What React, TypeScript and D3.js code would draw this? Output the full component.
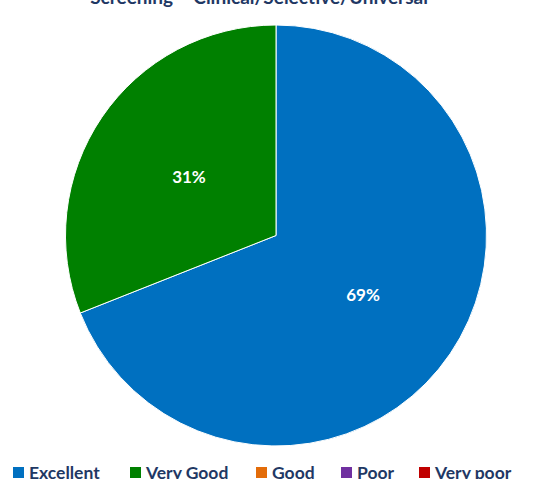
import React from "react";
import * as d3 from "d3";

const categories = ["Excellent", "Very Good", "Good", "Poor", "Very poor"];
const values = [69, 31, 0, 0, 0];
const colors = ["#0070C0", "#008000", "#E36C09", "#7030A0", "#C00000"];
const title = "Screening – Clinical/Selective/Universal";

const legendX = [13, 130, 256, 341, 419];

export default function App() {
  const W = 550, H = 479;
  const cx = 276, cy = 235.5, r = 210.5;
  const pie = d3.pie<number>().value((d) => d).sort(null);
  const arcs = pie(values);
  const arc = d3.arc<d3.PieArcDatum<number>>().innerRadius(0).outerRadius(r);
  const total = d3.sum(values);
  const labelArc = d3.arc<d3.PieArcDatum<number>>().innerRadius(r * 0.5).outerRadius(r * 0.5);
  const font = "Lato, 'Open Sans', sans-serif";
  return (
    <svg width={W} height={H} style={{ position: "absolute", left: 0, top: 0 }}>
      <rect width={W} height={H} fill="#fff" />
      <text x={259} y={4} textAnchor="middle" fontFamily={font} fontWeight="bold" fontSize={19} fill="#1F3864">
        {title}
      </text>
      <g transform={`translate(${cx},${cy})`}>
        {arcs.map((a, i) =>
          a.value > 0 ? (
            <path key={i} d={arc(a) || ""} fill={colors[i]} stroke="#fff" strokeWidth={1} />
          ) : null
        )}
        {arcs.map((a, i) => {
          if (a.value <= 0) return null;
          const [x, y] = labelArc.centroid(a);
          return (
            <text key={"l" + i} x={x} y={y} textAnchor="middle" dominantBaseline="central" fontFamily={font} fontWeight="bold" fontSize={17} fill="#fff">
              {Math.round((a.value / total) * 100) + "%"}
            </text>
          );
        })}
      </g>
      {categories.map((c, i) => (
        <g key={c} transform={`translate(${legendX[i]},0)`}>
          <rect x={0} y={467} width={11} height={11} fill={colors[i]} />
          <text x={16} y={479} fontFamily={font} fontWeight="bold" fontSize={17.5} fill="#1F3864">
            {c}
          </text>
        </g>
      ))}
    </svg>
  );
}
